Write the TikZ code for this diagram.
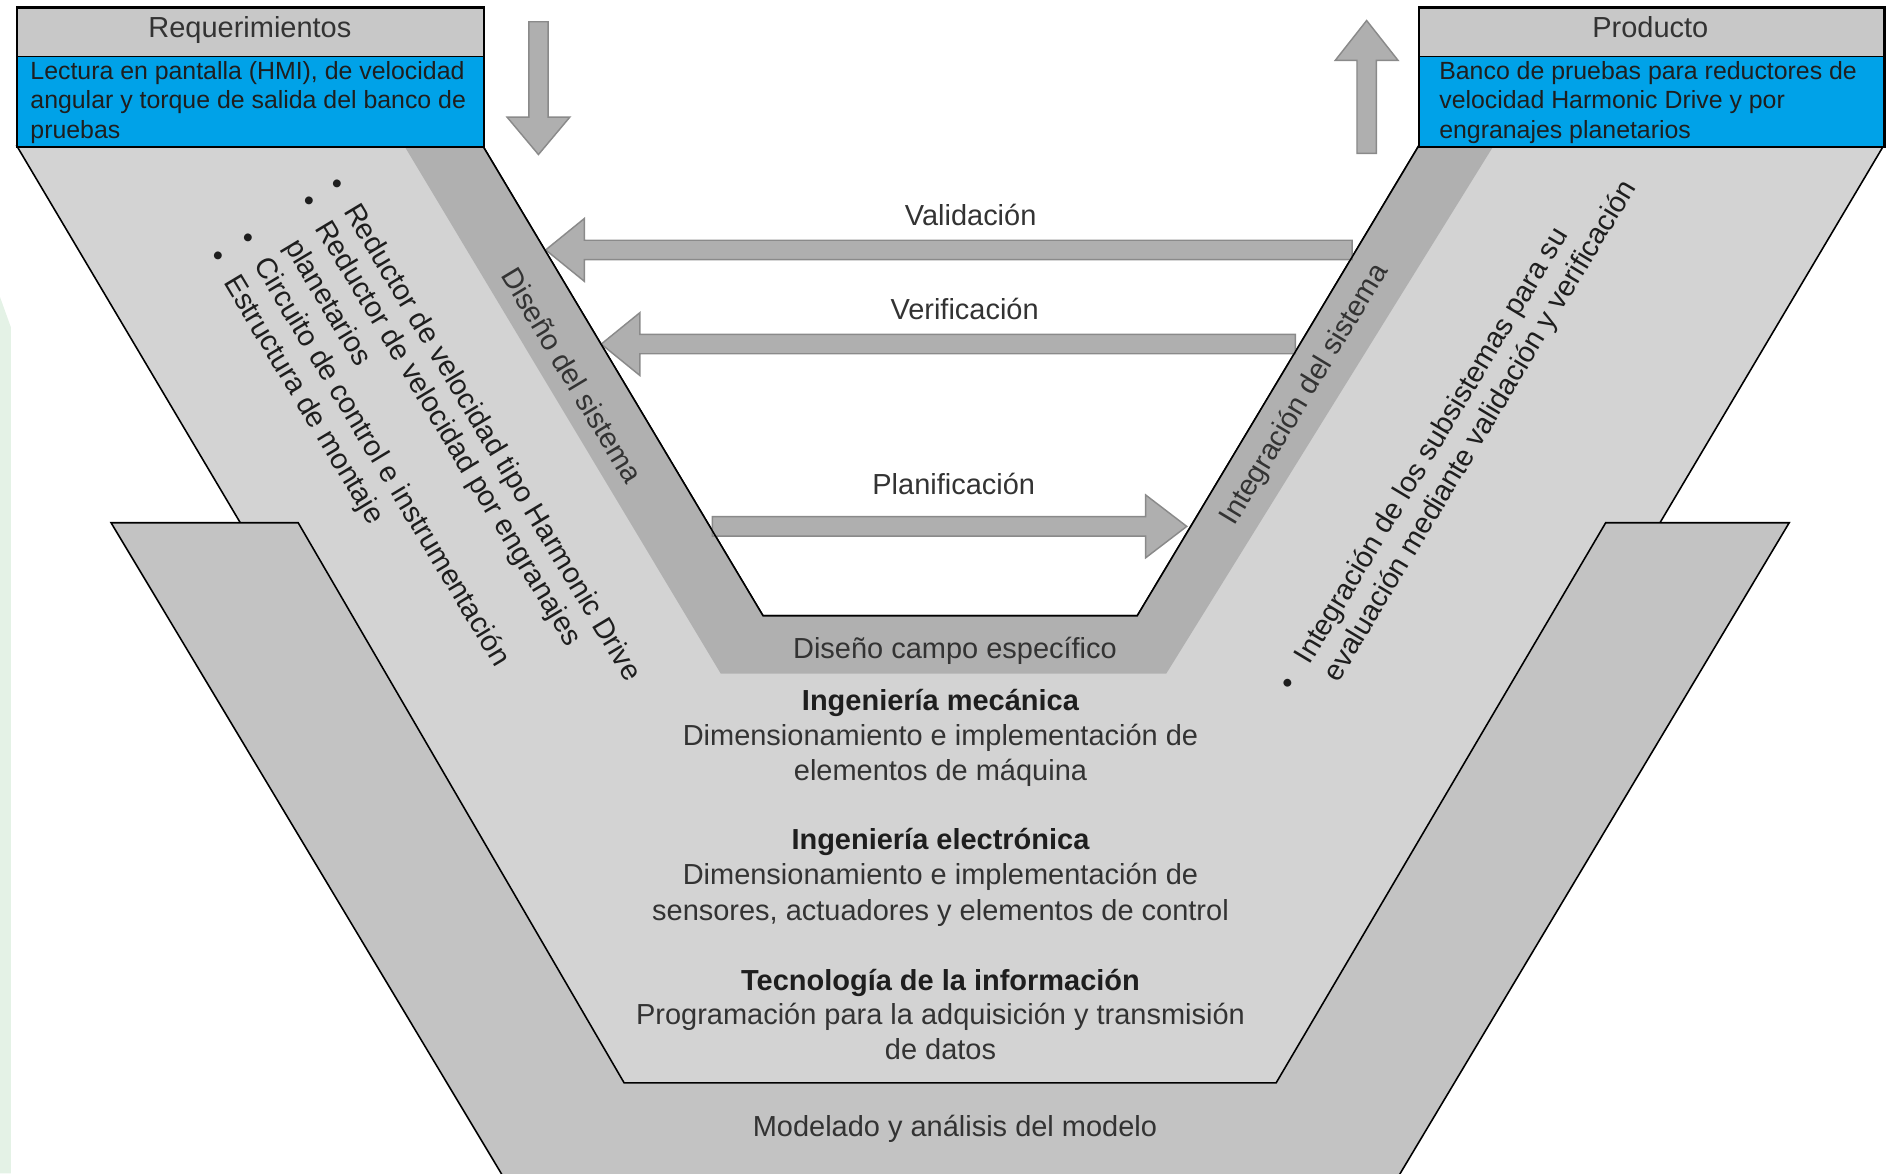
\documentclass[tikz,border=0pt]{standalone}
\usepackage{fontspec}
\setmainfont{Liberation Sans}
\definecolor{vlight}{HTML}{D3D3D3}
\definecolor{vband}{HTML}{B0B0B0}
\definecolor{vdark}{HTML}{C3C3C3}
\definecolor{hdr}{HTML}{C8C8C8}
\definecolor{blu}{RGB}{0,162,232}
\definecolor{arrfill}{HTML}{AFAFAF}
\definecolor{arrdraw}{HTML}{8A8A8A}
\definecolor{txt}{HTML}{333333}
\definecolor{dtxt}{HTML}{1E1E1E}
\definecolor{strip}{HTML}{E4F2E6}
\begin{document}
\begin{tikzpicture}[x=1pt,y=-1pt,
  edge/.style={draw=black, line width=1.3pt, line join=miter},
  blockarrow/.style={fill=arrfill, draw=arrdraw, line width=1.2pt, line join=miter},
  boxpart/.style={draw=black, line width=1.2pt, anchor=north west, inner sep=0pt},
  lbl/.style={font=\fontsize{24}{29}\selectfont, text=txt, inner sep=0pt, anchor=base},
  lblb/.style={font=\fontsize{24}{29}\selectfont\bfseries, text=dtxt, inner sep=0pt, anchor=base},
  bluetext/.style={font=\fontsize{20.6}{24.5}\selectfont, text=dtxt, inner sep=0pt, anchor=base west},
  rotlbl/.style={font=\fontsize{24}{29}\selectfont, text=txt, inner sep=0pt},
  listline/.style={font=\fontsize{24}{29}\selectfont, text=dtxt, inner sep=0pt, anchor=base west, transform shape},
]
\useasboundingbox (0,0) rectangle (1568,972);
\clip (0,0) rectangle (1568,972);

% pale strip at left edge
\fill[strip] (0,246) -- (9,271) -- (9,972) -- (0,972) -- cycle;

% main light V
\path[fill=vlight, edge] (14,121) -- (400,121) -- (632,510) -- (942,510) -- (1175,121) -- (1560,121) -- (1098,900) -- (476,900) -- cycle;
% darker band (system design / integration)
\fill[vband] (335,121) -- (400,121) -- (632,510) -- (942,510) -- (1175,121) -- (1237,121) -- (966,558) -- (597,558) -- cycle;
% outer model V
\path[fill=vdark, edge] (92,433) -- (247,433) -- (517,897) -- (1057,897) -- (1330,433) -- (1482,433) -- (1152,985) -- (423,985) -- cycle;

% block arrows
\path[blockarrow] (452,207) -- (484,181) -- (484,199) -- (1120,199) -- (1120,215) -- (484,215) -- (484,233) -- cycle;
\path[blockarrow] (498,285) -- (530,259) -- (530,277) -- (1073,277) -- (1073,293) -- (530,293) -- (530,311) -- cycle;
\path[blockarrow] (983,436) -- (949,410) -- (949,428) -- (590,428) -- (590,444) -- (949,444) -- (949,462) -- cycle;
\path[blockarrow] (446,128) -- (420,97) -- (438,97) -- (438,18) -- (454,18) -- (454,97) -- (472,97) -- cycle;
\path[blockarrow] (1132,17) -- (1106,50) -- (1124,50) -- (1124,127) -- (1140,127) -- (1140,50) -- (1158,50) -- cycle;

% inner edge of the V over the arrows
\draw[edge] (400,121) -- (632,510) -- (942,510) -- (1175,121);

% Requerimientos box
\node[boxpart, fill=hdr, minimum width=386pt, minimum height=40pt] (reqhead) at (14,6) {};
\node[boxpart, fill=blu, minimum width=386pt, minimum height=75pt] (reqbody) at (14,46) {};
\draw[line width=1.5pt] (reqhead.north west) rectangle (reqbody.south east);
\node[lbl] (reqtitle) at (207,31) {Requerimientos};
\node[bluetext] (req1) at (25,65.5) {Lectura en pantalla (HMI), de velocidad};
\node[bluetext] (req2) at (25,90) {angular y torque de salida del banco de};
\node[bluetext] (req3) at (25,114.5) {pruebas};

% Producto box
\node[boxpart, fill=hdr, minimum width=385pt, minimum height=40pt] (prodhead) at (1175,6) {};
\node[boxpart, fill=blu, minimum width=385pt, minimum height=75pt] (prodbody) at (1175,46) {};
\draw[line width=1.5pt] (prodhead.north west) rectangle (prodbody.south east);
\node[lbl] (prodtitle) at (1367,31) {Producto};
\node[bluetext] (prod1) at (1192,65.5) {Banco de pruebas para reductores de};
\node[bluetext] (prod2) at (1192,90) {velocidad Harmonic Drive y por};
\node[bluetext] (prod3) at (1192,114.5) {engranajes planetarios};

% arrow labels
\node[lbl] (val) at (804,186.5) {Validación};
\node[lbl] (ver) at (799,264.5) {Verificación};
\node[lbl] (pla) at (790,409.5) {Planificación};

% band labels
\node[rotlbl, rotate=-59] (dsis) at (474,311) {Diseño del sistema};
\node[rotlbl, rotate=59] (isis) at (1081,327) {Integración del sistema};
\node[lbl] (dce) at (791,545.5) {Diseño campo específico};

% centre texts
\node[lblb] (im) at (779,588.5) {Ingeniería mecánica};
\node[lbl] (im1) at (779,617.5) {Dimensionamiento e implementación de};
\node[lbl] (im2) at (779,646.5) {elementos de máquina};
\node[lblb] (ie) at (779,703.5) {Ingeniería electrónica};
\node[lbl] (ie1) at (779,732.5) {Dimensionamiento e implementación de};
\node[lbl] (ie2) at (779,762.5) {sensores, actuadores y elementos de control};
\node[lblb] (ti) at (779,820.5) {Tecnología de la información};
\node[lbl] (ti1) at (779,848.5) {Programación para la adquisición y transmisión};
\node[lbl] (ti2) at (779,877.5) {de datos};
\node[lbl] (mod) at (791,941.5) {Modelado y análisis del modelo};

% left list
\begin{scope}[rotate=-59]
\node[listline] (l1) at (270,-153.6) {\makebox[26pt][l]{•}Reductor de velocidad tipo Harmonic Drive};
\node[listline] (l2) at (270,-126.2) {\makebox[26pt][l]{•}Reductor de velocidad por engranajes};
\node[listline] (l3) at (296,-96.5) {planetarios};
\node[listline] (l4) at (270,-66.8) {\makebox[26pt][l]{•}Circuito de control e instrumentación};
\node[listline] (l5) at (270,-37.9) {\makebox[26pt][l]{•}Estructura de montaje};
\end{scope}

% right list
\begin{scope}[rotate=59]
\node[listline] (r1) at (60,1214) {\makebox[26pt][l]{•}Integración de los subsistemas para su};
\node[listline] (r2) at (86,1242) {evaluación mediante validación y verificación};
\end{scope}
\end{tikzpicture}
\end{document}
